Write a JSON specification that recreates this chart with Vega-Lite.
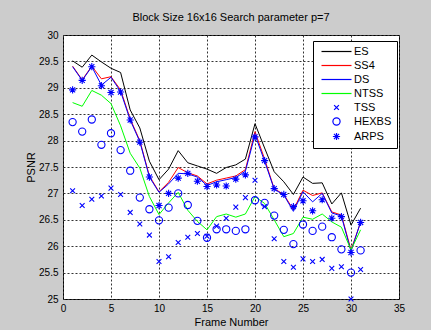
{
"$schema": "https://vega.github.io/schema/vega-lite/v6.json",
"width": 336, "height": 264,
"autosize": {"type": "none"},
"padding": {"left": 63, "top": 35, "right": 32, "bottom": 31},
"background": "#cccccc",
"title": {"text": "Block Size 16x16 Search parameter p=7", "font": "Liberation Sans", "fontSize": 11, "fontWeight": "normal", "color": "black", "offset": 7},
"config": {
  "view": {"fill": "white", "stroke": "black", "strokeWidth": 1},
  "axis": {"grid": true, "gridDash": [2, 2], "gridColor": "#333333", "gridWidth": 1, "gridOpacity": 1, "domain": false, "ticks": false, "labelFont": "Liberation Sans", "labelFontSize": 10, "labelColor": "black", "labelFlush": false, "labelOverlap": false, "titleFont": "Liberation Sans", "titleFontSize": 11, "titleFontWeight": "normal", "titleColor": "black"},
  "legend": {"title": null, "orient": "none", "legendX": 250, "legendY": 6, "fillColor": "white", "strokeColor": "black", "padding": 5, "symbolOffset": 13, "labelOffset": 12, "rowPadding": 2, "symbolSize": 36, "symbolStrokeWidth": 1.2, "symbolOpacity": 1, "labelFont": "Liberation Sans", "labelFontSize": 11, "labelColor": "black"}
},
"data": {"values": [
{"f":1,"s":"ES","v":29.51},{"f":2,"s":"ES","v":29.39},{"f":3,"s":"ES","v":29.62},{"f":4,"s":"ES","v":29.49},{"f":5,"s":"ES","v":29.37},{"f":6,"s":"ES","v":29.29},{"f":7,"s":"ES","v":28.58},{"f":8,"s":"ES","v":28.24},{"f":9,"s":"ES","v":27.61},{"f":10,"s":"ES","v":27.26},{"f":11,"s":"ES","v":27.46},{"f":12,"s":"ES","v":27.81},{"f":13,"s":"ES","v":27.58},{"f":14,"s":"ES","v":27.52},{"f":15,"s":"ES","v":27.46},{"f":16,"s":"ES","v":27.38},{"f":17,"s":"ES","v":27.49},{"f":18,"s":"ES","v":27.54},{"f":19,"s":"ES","v":27.65},{"f":20,"s":"ES","v":28.32},{"f":21,"s":"ES","v":27.86},{"f":22,"s":"ES","v":27.41},{"f":23,"s":"ES","v":27.22},{"f":24,"s":"ES","v":26.98},{"f":25,"s":"ES","v":27.31},{"f":26,"s":"ES","v":27.19},{"f":27,"s":"ES","v":27.20},{"f":28,"s":"ES","v":26.80},{"f":29,"s":"ES","v":27.01},{"f":30,"s":"ES","v":26.40},{"f":31,"s":"ES","v":26.72},
{"f":1,"s":"SS4","v":29.41},{"f":2,"s":"SS4","v":29.15},{"f":3,"s":"SS4","v":29.41},{"f":4,"s":"SS4","v":29.17},{"f":5,"s":"SS4","v":29.21},{"f":6,"s":"SS4","v":28.96},{"f":7,"s":"SS4","v":28.41},{"f":8,"s":"SS4","v":28.00},{"f":9,"s":"SS4","v":27.33},{"f":10,"s":"SS4","v":27.03},{"f":11,"s":"SS4","v":27.21},{"f":12,"s":"SS4","v":27.49},{"f":13,"s":"SS4","v":27.39},{"f":14,"s":"SS4","v":27.33},{"f":15,"s":"SS4","v":27.18},{"f":16,"s":"SS4","v":27.25},{"f":17,"s":"SS4","v":27.29},{"f":18,"s":"SS4","v":27.33},{"f":19,"s":"SS4","v":27.45},{"f":20,"s":"SS4","v":28.17},{"f":21,"s":"SS4","v":27.65},{"f":22,"s":"SS4","v":27.09},{"f":23,"s":"SS4","v":26.98},{"f":24,"s":"SS4","v":26.69},{"f":25,"s":"SS4","v":27.06},{"f":26,"s":"SS4","v":26.96},{"f":27,"s":"SS4","v":27.01},{"f":28,"s":"SS4","v":26.65},{"f":29,"s":"SS4","v":26.59},{"f":30,"s":"SS4","v":25.93},{"f":31,"s":"SS4","v":26.45},
{"f":1,"s":"DS","v":29.40},{"f":2,"s":"DS","v":29.14},{"f":3,"s":"DS","v":29.40},{"f":4,"s":"DS","v":29.05},{"f":5,"s":"DS","v":29.20},{"f":6,"s":"DS","v":28.93},{"f":7,"s":"DS","v":28.39},{"f":8,"s":"DS","v":27.98},{"f":9,"s":"DS","v":27.31},{"f":10,"s":"DS","v":27.02},{"f":11,"s":"DS","v":27.18},{"f":12,"s":"DS","v":27.38},{"f":13,"s":"DS","v":27.37},{"f":14,"s":"DS","v":27.31},{"f":15,"s":"DS","v":27.15},{"f":16,"s":"DS","v":27.22},{"f":17,"s":"DS","v":27.26},{"f":18,"s":"DS","v":27.30},{"f":19,"s":"DS","v":27.42},{"f":20,"s":"DS","v":28.11},{"f":21,"s":"DS","v":27.61},{"f":22,"s":"DS","v":27.08},{"f":23,"s":"DS","v":26.97},{"f":24,"s":"DS","v":26.66},{"f":25,"s":"DS","v":27.03},{"f":26,"s":"DS","v":26.84},{"f":27,"s":"DS","v":27.00},{"f":28,"s":"DS","v":26.63},{"f":29,"s":"DS","v":26.57},{"f":30,"s":"DS","v":25.90},{"f":31,"s":"DS","v":26.46},
{"f":1,"s":"NTSS","v":28.72},{"f":2,"s":"NTSS","v":28.65},{"f":3,"s":"NTSS","v":28.95},{"f":4,"s":"NTSS","v":28.86},{"f":5,"s":"NTSS","v":28.70},{"f":6,"s":"NTSS","v":28.28},{"f":7,"s":"NTSS","v":27.76},{"f":8,"s":"NTSS","v":27.48},{"f":9,"s":"NTSS","v":26.94},{"f":10,"s":"NTSS","v":26.60},{"f":11,"s":"NTSS","v":26.82},{"f":12,"s":"NTSS","v":27.02},{"f":13,"s":"NTSS","v":26.68},{"f":14,"s":"NTSS","v":26.47},{"f":15,"s":"NTSS","v":26.31},{"f":16,"s":"NTSS","v":26.56},{"f":17,"s":"NTSS","v":26.61},{"f":18,"s":"NTSS","v":26.55},{"f":19,"s":"NTSS","v":26.61},{"f":20,"s":"NTSS","v":26.94},{"f":21,"s":"NTSS","v":26.81},{"f":22,"s":"NTSS","v":26.50},{"f":23,"s":"NTSS","v":26.18},{"f":24,"s":"NTSS","v":26.24},{"f":25,"s":"NTSS","v":26.55},{"f":26,"s":"NTSS","v":26.51},{"f":27,"s":"NTSS","v":26.61},{"f":28,"s":"NTSS","v":26.46},{"f":29,"s":"NTSS","v":26.36},{"f":30,"s":"NTSS","v":25.93},{"f":31,"s":"NTSS","v":26.31},
{"f":1,"s":"TSS","v":27.05},{"f":2,"s":"TSS","v":26.77},{"f":3,"s":"TSS","v":26.89},{"f":4,"s":"TSS","v":26.95},{"f":5,"s":"TSS","v":27.10},{"f":6,"s":"TSS","v":26.98},{"f":7,"s":"TSS","v":26.64},{"f":8,"s":"TSS","v":26.42},{"f":9,"s":"TSS","v":26.21},{"f":10,"s":"TSS","v":25.71},{"f":11,"s":"TSS","v":25.80},{"f":12,"s":"TSS","v":26.07},{"f":13,"s":"TSS","v":26.17},{"f":14,"s":"TSS","v":26.24},{"f":15,"s":"TSS","v":26.19},{"f":16,"s":"TSS","v":26.38},{"f":17,"s":"TSS","v":26.53},{"f":18,"s":"TSS","v":26.74},{"f":19,"s":"TSS","v":26.92},{"f":20,"s":"TSS","v":27.25},{"f":21,"s":"TSS","v":26.75},{"f":22,"s":"TSS","v":26.14},{"f":23,"s":"TSS","v":25.71},{"f":24,"s":"TSS","v":25.60},{"f":25,"s":"TSS","v":25.76},{"f":26,"s":"TSS","v":25.71},{"f":27,"s":"TSS","v":25.75},{"f":28,"s":"TSS","v":25.58},{"f":29,"s":"TSS","v":25.61},{"f":30,"s":"TSS","v":25.00},{"f":31,"s":"TSS","v":25.56},
{"f":1,"s":"HEXBS","v":28.35},{"f":2,"s":"HEXBS","v":28.17},{"f":3,"s":"HEXBS","v":28.40},{"f":4,"s":"HEXBS","v":27.92},{"f":5,"s":"HEXBS","v":28.14},{"f":6,"s":"HEXBS","v":27.82},{"f":7,"s":"HEXBS","v":27.43},{"f":8,"s":"HEXBS","v":26.92},{"f":9,"s":"HEXBS","v":26.70},{"f":10,"s":"HEXBS","v":26.49},{"f":11,"s":"HEXBS","v":26.73},{"f":12,"s":"HEXBS","v":27.00},{"f":13,"s":"HEXBS","v":26.78},{"f":14,"s":"HEXBS","v":26.48},{"f":15,"s":"HEXBS","v":26.16},{"f":16,"s":"HEXBS","v":26.32},{"f":17,"s":"HEXBS","v":26.32},{"f":18,"s":"HEXBS","v":26.29},{"f":19,"s":"HEXBS","v":26.32},{"f":20,"s":"HEXBS","v":26.87},{"f":21,"s":"HEXBS","v":26.82},{"f":22,"s":"HEXBS","v":26.58},{"f":23,"s":"HEXBS","v":26.31},{"f":24,"s":"HEXBS","v":26.04},{"f":25,"s":"HEXBS","v":26.41},{"f":26,"s":"HEXBS","v":26.29},{"f":27,"s":"HEXBS","v":26.37},{"f":28,"s":"HEXBS","v":26.17},{"f":29,"s":"HEXBS","v":25.94},{"f":30,"s":"HEXBS","v":25.50},{"f":31,"s":"HEXBS","v":25.92},
{"f":1,"s":"ARPS","v":28.96},{"f":2,"s":"ARPS","v":29.14},{"f":3,"s":"ARPS","v":29.40},{"f":4,"s":"ARPS","v":29.04},{"f":5,"s":"ARPS","v":28.91},{"f":6,"s":"ARPS","v":28.92},{"f":7,"s":"ARPS","v":28.39},{"f":8,"s":"ARPS","v":27.97},{"f":9,"s":"ARPS","v":27.31},{"f":10,"s":"ARPS","v":26.77},{"f":11,"s":"ARPS","v":27.00},{"f":12,"s":"ARPS","v":27.29},{"f":13,"s":"ARPS","v":27.38},{"f":14,"s":"ARPS","v":27.23},{"f":15,"s":"ARPS","v":27.13},{"f":16,"s":"ARPS","v":27.16},{"f":17,"s":"ARPS","v":27.14},{"f":18,"s":"ARPS","v":27.27},{"f":19,"s":"ARPS","v":27.35},{"f":20,"s":"ARPS","v":28.07},{"f":21,"s":"ARPS","v":27.62},{"f":22,"s":"ARPS","v":27.09},{"f":23,"s":"ARPS","v":26.98},{"f":24,"s":"ARPS","v":26.75},{"f":25,"s":"ARPS","v":26.86},{"f":26,"s":"ARPS","v":26.67},{"f":27,"s":"ARPS","v":26.88},{"f":28,"s":"ARPS","v":26.53},{"f":29,"s":"ARPS","v":26.56},{"f":30,"s":"ARPS","v":25.88},{"f":31,"s":"ARPS","v":26.45}
]},
"encoding": {
  "x": {"field": "f", "type": "quantitative", "title": "Frame Number", "scale": {"domain": [0, 35], "nice": false, "zero": false}, "axis": {"values": [0, 5, 10, 15, 20, 25, 30, 35], "labelPadding": 4, "titlePadding": 3}},
  "y": {"field": "v", "type": "quantitative", "title": "PSNR", "scale": {"domain": [25, 30], "nice": false, "zero": false}, "axis": {"values": [25, 25.5, 26, 26.5, 27, 27.5, 28, 28.5, 29, 29.5, 30], "format": ".1~f", "labelPadding": 5, "titlePadding": 2}},
  "color": {"field": "s", "type": "nominal", "scale": {"domain": ["ES", "SS4", "DS", "NTSS", "TSS", "HEXBS", "ARPS"], "range": ["#000000", "#ff0000", "#0000ff", "#00ff00", "#0000ff", "#0000ff", "#0000ff"]}, "legend": {"encode": {"symbols": {"update": {"fillOpacity": {"value": 0}, "strokeOpacity": {"value": 1}}}}}},
  "shape": {"field": "s", "type": "nominal", "scale": {"domain": ["ES", "SS4", "DS", "NTSS", "TSS", "HEXBS", "ARPS"], "range": ["M-5,0L5,0", "M-5,0L5,0", "M-5,0L5,0", "M-5,0L5,0", "M-0.8,-0.8L0.8,0.8M-0.8,0.8L0.8,-0.8", "M1.2,0A1.2,1.2,0,1,1,-1.2,0A1.2,1.2,0,1,1,1.2,0", "M-1.2,0L1.2,0M0,-1.2L0,1.2M-0.85,-0.85L0.85,0.85M-0.85,0.85L0.85,-0.85"]}, "legend": {"encode": {"symbols": {"update": {"fillOpacity": {"value": 0}, "strokeOpacity": {"value": 1}}}}}}
},
"layer": [
  {
    "transform": [{"filter": {"field": "s", "oneOf": ["ES", "SS4", "DS", "NTSS"]}}],
    "mark": {"type": "line", "strokeWidth": 1}
  },
  {
    "transform": [{"filter": {"field": "s", "oneOf": ["TSS", "HEXBS", "ARPS"]}}],
    "mark": {"type": "point", "filled": false, "size": 36, "strokeWidth": 1.1, "opacity": 1}
  }
]
}
